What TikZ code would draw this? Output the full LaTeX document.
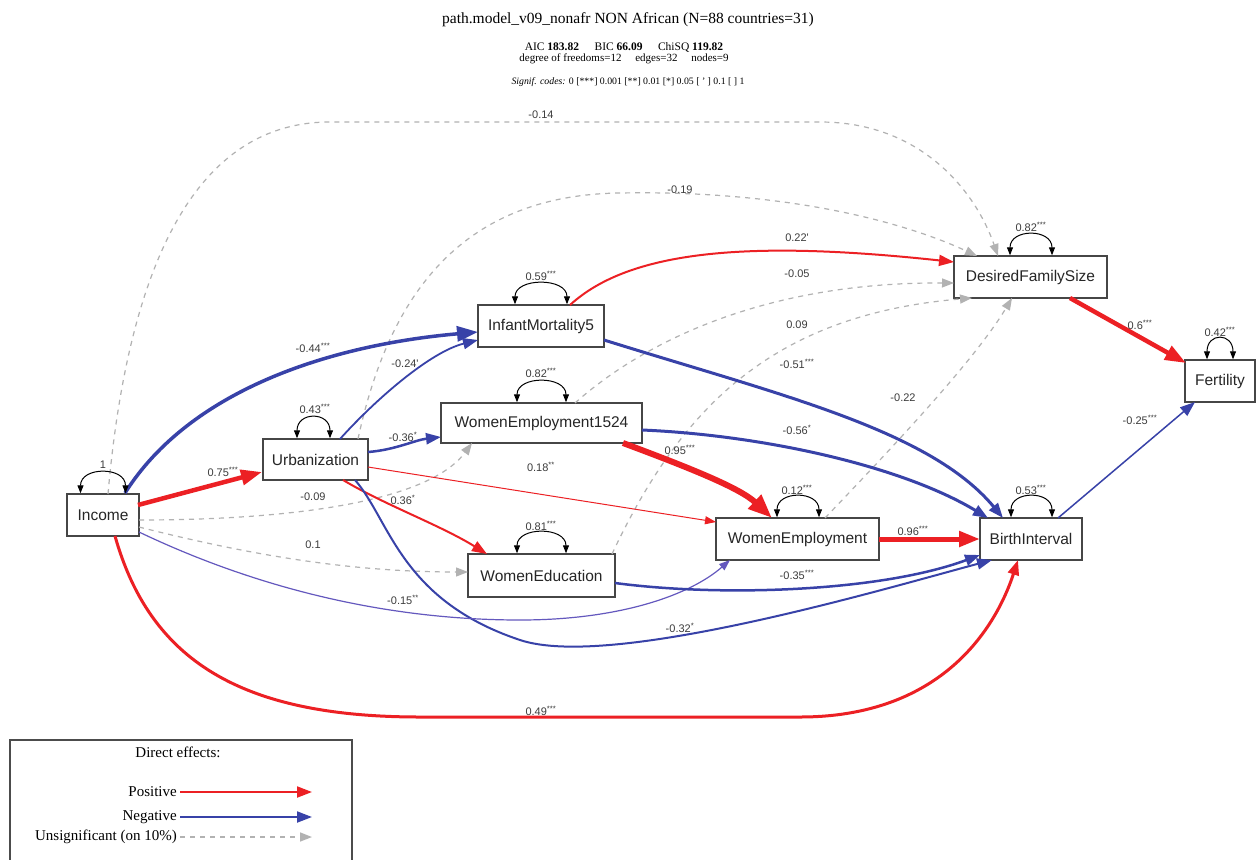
\documentclass[tikz,border=0pt]{standalone}
\usepackage{fontspec}
\setmainfont{Liberation Serif}
\newfontfamily\arial{Liberation Sans}
\usetikzlibrary{arrows.meta,calc}
\definecolor{posred}{RGB}{236,32,36}
\definecolor{negblue}{RGB}{56,66,168}
\definecolor{thinblue}{RGB}{100,88,190}
\definecolor{nsgrey}{RGB}{178,178,178}
\definecolor{boxline}{RGB}{70,70,70}
\definecolor{lblcol}{RGB}{60,60,60}
\newcommand\st[1]{\textsuperscript{#1}}
\newcommand\selfloop[3]{\draw[loopst] ($(#1.north)+(#2,0)$) .. controls +(0,-27) and +(0,-27) .. ($(#1.north)+(#3,0)$);}
\begin{document}
\begin{tikzpicture}[x=1pt,y=-1pt,
  var/.style={draw=boxline, line width=1.4pt, fill=white, inner sep=0pt, font=\arial\fontsize{15.5}{18}\selectfont, text=black!85},
  elab/.style={font=\arial\fontsize{11}{13}\selectfont, text=lblcol, inner sep=1pt},
  posedge/.style={draw=posred, -{Triangle[length=15pt,width=11pt]}},
  negedge/.style={draw=negblue, -{Triangle[length=15pt,width=11pt]}},
  nsedge/.style={draw=nsgrey, line width=1.2pt, dash pattern=on 5pt off 5pt, -{Triangle[length=12pt,width=9pt]}},
  faintns/.style={draw=nsgrey!60, line width=1.2pt, dash pattern=on 5pt off 5pt},
  loopst/.style={draw=black, line width=1pt, {Triangle[length=8pt,width=6pt]}-{Triangle[length=8pt,width=6pt]}},
  bigtip/.style={-{Triangle[length=21pt,width=15pt]}},
  smalltip/.style={-{Triangle[length=11pt,width=8pt]}},
  legtext/.style={font=\fontsize{15}{17}\selectfont, inner sep=1pt}
]
\useasboundingbox[fill=white] (0,0) rectangle (1257,859);

% titles
\node[font=\fontsize{15.5}{18}\selectfont] (title) at (628,20) {path.model\_v09\_nonafr NON African (N=88 countries=31)};
\node[font=\fontsize{11.5}{13}\selectfont] (fit1) at (624,47) {AIC \textbf{183.82}\hspace{1.1em} BIC \textbf{66.09}\hspace{1.1em} ChiSQ \textbf{119.82}};
\node[font=\fontsize{11}{12}\selectfont] (fit2) at (624,59) {degree of freedoms=12\hspace{1em} edges=32\hspace{1em} nodes=9};
\node[font=\fontsize{9.8}{11}\selectfont] (codes) at (628,82) {\textit{Signif. codes:} 0 [***] 0.001 [**] 0.01 [*] 0.05 [ ' ] 0.1 [ ] 1};

% nodes
\node[var, minimum width=72pt, minimum height=42pt] (inc) at (103,515) {Income};
\node[var, minimum width=105pt, minimum height=41pt] (urb) at (315.5,459.5) {Urbanization};
\node[var, minimum width=126pt, minimum height=42pt] (im) at (541,326) {InfantMortality5};
\node[var, minimum width=201pt, minimum height=40pt] (we15) at (541.5,423) {WomenEmployment1524};
\node[var, minimum width=147pt, minimum height=43pt] (wed) at (541.5,575.5) {WomenEducation};
\node[var, minimum width=163pt, minimum height=42pt] (wem) at (797.5,539) {WomenEmployment};
\node[var, minimum width=102pt, minimum height=42pt] (bi) at (1031,539) {BirthInterval};
\node[var, minimum width=153pt, minimum height=42pt] (dfs) at (1030.5,277) {DesiredFamilySize};
\node[var, minimum width=70pt, minimum height=42pt] (fert) at (1220,381) {Fertility};

% unsignificant (dashed)
\draw[nsedge] ($(inc)+(5,-21)$) .. controls (125,300) and (180,122) .. (330,122) -- (820,122) .. controls (920,122) and (975,190) .. ($(dfs)+(-32.5,-21)$);
\draw[nsedge] ($(urb)+(42.5,-20.5)$) .. controls (390,290) and (465,195) .. (620,193) .. controls (780,190) and (900,220) .. ($(dfs)+(-53.5,-21)$);
\draw[nsedge] ($(inc)+(36,5)$) .. controls (300,520) and (430,500) .. ($(we15)+(-69.5,20)$);
\draw[nsedge] ($(inc)+(36,12)$) .. controls (250,555) and (350,572) .. ($(wed)+(-73.5,-3.5)$);
\draw[nsedge] ($(we15)+(33.5,-20)$) .. controls (640,345) and (760,282) .. ($(dfs)+(-76.5,6)$);
\draw[nsedge] ($(wed)+(70.5,-21.5)$) .. controls (680,410) and (770,315) .. ($(dfs)+(-58.5,21)$);
\draw[nsedge] ($(wem)+(27.5,-21)$) .. controls (890,450) and (975,360) .. ($(dfs)+(-18.5,21)$);

% positive
\draw[posedge, bigtip, line width=4.5pt] ($(inc)+(35,-10)$) -- ($(urb)+(-53.5,12.5)$);
\draw[posedge, smalltip, line width=1pt] ($(urb)+(52.5,7.5)$) -- ($(wem)+(-81.5,-17)$);
\draw[posedge, line width=2pt] ($(urb)+(27.5,20.5)$) .. controls (385,505) and (440,525) .. ($(wed)+(-54.5,-21.5)$);
\draw[posedge, line width=2pt] ($(im)+(29,-21)$) .. controls (630,250) and (750,240) .. ($(dfs)+(-76.5,-15)$);
\draw[posedge, -{Triangle[length=24pt,width=18pt]}, line width=6pt] ($(we15)+(81.5,20)$) .. controls (690,468) and (740,488) .. ($(wem)+(-25.5,-21)$);
\draw[posedge, bigtip, line width=5pt] ($(wem)+(81.5,0)$) -- ($(bi)+(-51,0)$);
\draw[posedge, bigtip, line width=4.5pt] ($(dfs)+(39.5,21)$) -- ($(fert)+(-34,-18)$);
\draw[posedge, line width=3pt] ($(inc)+(12,21)$) .. controls (150,660) and (240,717) .. (420,717) -- (800,717) .. controls (940,717) and (995,630) .. ($(bi)+(-13,21)$);

% negative
\draw[negedge, bigtip, line width=3.5pt] ($(inc)+(22,-22)$) .. controls (190,390) and (330,345) .. ($(im)+(-63,6)$);
\draw[negedge, line width=1.8pt] ($(urb)+(24.5,-20.5)$) .. controls (375,400) and (430,352) .. ($(im)+(-63,14)$);
\draw[negedge, line width=2.5pt] ($(urb)+(52.5,-7.5)$) .. controls (395,450) and (415,440) .. ($(we15)+(-100.5,14)$);
\draw[negedge, line width=2pt] ($(urb)+(39.5,20.5)$) .. controls (390,520) and (400,600) .. (520,640) .. controls (610,670) and (880,590) .. ($(bi)+(-39,21)$);
\draw[draw=thinblue, smalltip, line width=1.2pt] ($(inc)+(36,17)$) .. controls (250,585) and (380,620) .. (520,620) .. controls (620,620) and (690,595) .. ($(wem)+(-67.5,21)$);
\draw[negedge, line width=3pt] ($(im)+(63,14)$) .. controls (780,395) and (930,430) .. ($(bi)+(-28,-21)$);
\draw[negedge, line width=3pt] ($(we15)+(100.5,7)$) .. controls (760,435) and (900,465) .. ($(bi)+(-43,-21)$);
\draw[negedge, line width=2.5pt] ($(wed)+(73.5,7.5)$) .. controls (720,597) and (880,592) .. ($(bi)+(-51,16)$);
\draw[negedge, line width=1.5pt] ($(bi)+(27,-21)$) -- ($(fert)+(-25,21)$);

% self loops
\selfloop{inc}{-22.5}{22.5}
\selfloop{urb}{-18.5}{14.5}
\selfloop{im}{-26}{26}
\selfloop{we15}{-24.5}{24.5}
\selfloop{wed}{-24.5}{24.5}
\selfloop{wem}{-20.5}{21.5}
\selfloop{bi}{-20}{21}
\selfloop{dfs}{-20.5}{21.5}
\selfloop{fert}{-13}{13}

% loop labels
\node[elab] (v1) at (103,465) {1};
\node[elab] (v2) at (315,409) {0.43\st{***}};
\node[elab] (v3) at (541,276) {0.59\st{***}};
\node[elab] (v4) at (541,373) {0.82\st{***}};
\node[elab] (v5) at (541,526) {0.81\st{***}};
\node[elab] (v6) at (797,490) {0.12\st{***}};
\node[elab] (v7) at (1031,490) {0.53\st{***}};
\node[elab] (v8) at (1031,227) {0.82\st{***}};
\node[elab] (v9) at (1220,332) {0.42\st{***}};

% edge labels
\node[elab] (e1) at (313,348) {-0.44\st{***}};
\node[elab] (e2) at (405,364) {-0.24'};
\node[elab] (e3) at (223,472) {0.75\st{***}};
\node[elab] (e4) at (403,437) {-0.36\st{*}};
\node[elab] (e5) at (313,497) {-0.09};
\node[elab] (e6) at (403,500) {0.36\st{*}};
\node[elab] (e7) at (313,545) {0.1};
\node[elab] (e8) at (541,467) {0.18\st{**}};
\node[elab] (e9) at (403,600) {-0.15\st{**}};
\node[elab] (e10) at (680,628) {-0.32\st{*}};
\node[elab] (e11) at (541,711) {0.49\st{***}};
\node[elab] (e12) at (541,115) {-0.14};
\node[elab] (e13) at (680,190) {-0.19};
\node[elab] (e14) at (797,238) {0.22'};
\node[elab] (e15) at (797,274) {-0.05};
\node[elab] (e16) at (797,325) {0.09};
\node[elab] (e17) at (797,364) {-0.51\st{***}};
\node[elab] (e18) at (797,430) {-0.56\st{*}};
\node[elab] (e19) at (680,450) {0.95\st{***}};
\node[elab] (e20) at (903,398) {-0.22};
\node[elab] (e21) at (913,531) {0.96\st{***}};
\node[elab] (e22) at (797,575) {-0.35\st{***}};
\node[elab] (e23) at (1140,325) {0.6\st{***}};
\node[elab] (e24) at (1140,420) {-0.25\st{***}};

% legend
\draw[line width=1.5pt, draw=black!70] (10,865) -- (10,740) -- (352,740) -- (352,865);
\node[legtext] (lgt) at (178,752) {Direct effects:};
\node[legtext, anchor=east] (lp) at (178,792) {Positive};
\node[legtext, anchor=east] (ln) at (178,817) {Negative};
\node[legtext, anchor=east] (lu) at (178,837) {Unsignificant (on 10\%)};
\coordinate (lpa) at (180,792); \coordinate (lpb) at (312,792);
\coordinate (lna) at (180,817); \coordinate (lnb) at (312,817);
\coordinate (lua) at (180,837); \coordinate (lub) at (312,837);
\draw[posedge, line width=2pt] (lpa) -- (lpb);
\draw[negedge, line width=2pt] (lna) -- (lnb);
\draw[nsedge, line width=1.5pt] (lua) -- (lub);
\end{tikzpicture}
\end{document}
